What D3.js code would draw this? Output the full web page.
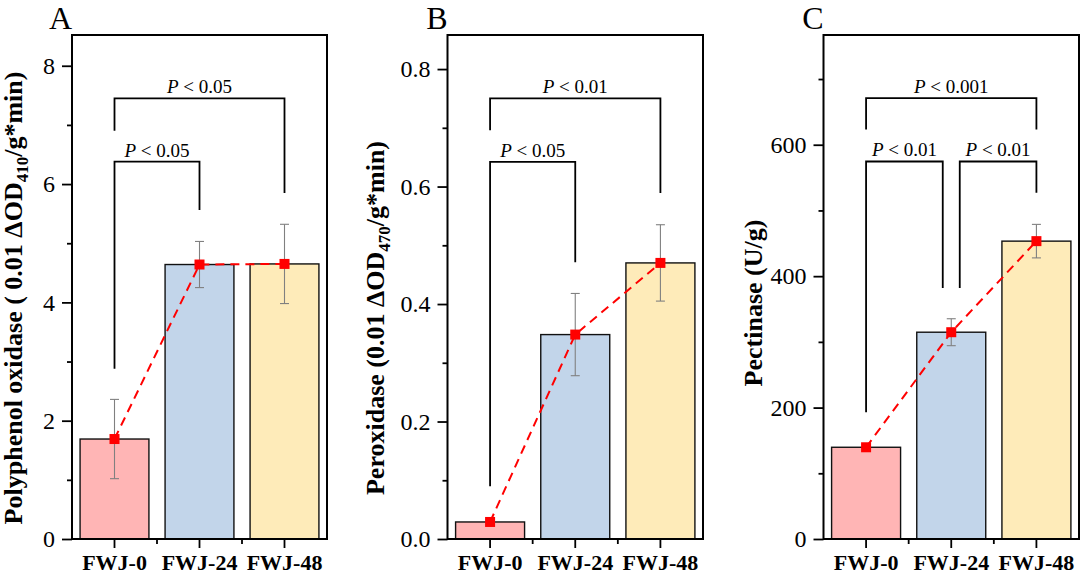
<!DOCTYPE html>
<html><head><meta charset="utf-8">
<script src="https://cdn.jsdelivr.net/npm/d3@7"></script>
<style>body{margin:0;background:#fff} svg{display:block}</style>
</head><body><svg id="c" width="1080" height="574"></svg>
<script>
// ---- data ----
const categories = ["FWJ-0", "FWJ-24", "FWJ-48"];
const barColors = ["#FFB5B5", "#C2D5EA", "#FEEBB9"];

const ppoValues = [1.69, 4.64, 4.65];
const ppoErrors = [0.67, 0.39, 0.67];
const podValues = [0.029, 0.348, 0.470];
const podErrors = [0.004, 0.070, 0.065];
const pecValues = [139.6, 314.7, 453.3];
const pecErrors = [4, 20.5, 25.5];

const ppoTicks = [0, 2, 4, 6, 8];
const ppoMinor = [1, 3, 5, 7];
const podTicks = [0, 0.2, 0.4, 0.6, 0.8];
const podMinor = [0.1, 0.3, 0.5, 0.7];
const pecTicks = [0, 200, 400, 600];
const pecMinor = [100, 300, 500, 700];

// brackets: from/to category index, bar level, left/right leg ends, p label
const ppoBrackets = [
  {from: 0, to: 1, level: 6.38, leftEnd: 2.88, rightEnd: 5.56, p: "0.05"},
  {from: 0, to: 2, level: 7.45, leftEnd: 6.90, rightEnd: 5.85, p: "0.05"}
];
const podBrackets = [
  {from: 0, to: 1, level: 0.642, leftEnd: 0.090, rightEnd: 0.471, p: "0.05"},
  {from: 0, to: 2, level: 0.750, leftEnd: 0.696, rightEnd: 0.589, p: "0.01"}
];
const pecBrackets = [
  {from: 0, to: 1, level: 574.5, leftEnd: 193, rightEnd: 382, p: "0.01", shiftR: -1},
  {from: 1, to: 2, level: 574.5, leftEnd: 382, rightEnd: 527, p: "0.01", shiftL: 1},
  {from: 0, to: 2, level: 671, leftEnd: 623, rightEnd: 623, p: "0.001"}
];

// ---- layout ----
const plotTop = 35, plotBottom = 539;
const panels = [
  {letter: "A", x0: 72, x1: 327, yMax: 8.52, values: ppoValues, errors: ppoErrors,
   ticks: ppoTicks, minor: ppoMinor, fmt: d3.format("d"), brackets: ppoBrackets,
   title: ["Polyphenol oxidase ( 0.01 \u0394OD", "410", "/g*min)"], titleX: 22, titleY: 298},
  {letter: "B", x0: 447.5, x1: 703, yMax: 0.858, values: podValues, errors: podErrors,
   ticks: podTicks, minor: podMinor, fmt: d3.format(".1f"), brackets: podBrackets,
   title: ["Peroxidase (0.01 \u0394OD", "470", "/g*min)"], titleX: 384, titleY: 318},
  {letter: "C", x0: 823.5, x1: 1079, yMax: 767, values: pecValues, errors: pecErrors,
   ticks: pecTicks, minor: pecMinor, fmt: d3.format("d"), brackets: pecBrackets,
   title: ["Pectinase (U/g)"], titleX: 762, titleY: 303}
];

const svg = d3.select("#c");
const serif = "'Liberation Serif','Times New Roman',serif";

panels.forEach(P => {
  const g = svg.append("g");
  const x = d3.scaleBand().domain(categories).range([P.x0, P.x1]).paddingInner(0.19).paddingOuter(0.095);
  const xc = d => x(d) + x.bandwidth() / 2;
  const y = d3.scaleLinear().domain([0, P.yMax]).range([plotBottom, plotTop]);
  const step = x.step();

  // bars
  g.selectAll("rect.bar").data(categories).join("rect")
    .attr("x", d => x(d)).attr("width", x.bandwidth())
    .attr("y", (d, i) => y(P.values[i])).attr("height", (d, i) => y(0) - y(P.values[i]))
    .attr("fill", (d, i) => barColors[i]).attr("stroke", "#111").attr("stroke-width", 1.4);

  // error bars
  categories.forEach((c, i) => {
    const cx = xc(c), hi = y(P.values[i] + P.errors[i]), lo = y(P.values[i] - P.errors[i]);
    const eg = g.append("g").attr("stroke", "#808080").attr("stroke-width", 1.1);
    eg.append("line").attr("x1", cx).attr("x2", cx).attr("y1", hi).attr("y2", lo);
    eg.append("line").attr("x1", cx - 4.5).attr("x2", cx + 4.5).attr("y1", hi).attr("y2", hi);
    eg.append("line").attr("x1", cx - 4.5).attr("x2", cx + 4.5).attr("y1", lo).attr("y2", lo);
  });

  // significance brackets
  P.brackets.forEach(b => {
    const xa = xc(categories[b.from]) + (b.shiftL ? b.shiftL * 8.5 : 0);
    const xb = xc(categories[b.to]) + (b.shiftR ? b.shiftR * 8.5 : 0);
    g.append("path")
      .attr("d", `M${xa},${y(b.leftEnd)}V${y(b.level)}H${xb}V${y(b.rightEnd)}`)
      .attr("fill", "none").attr("stroke", "#000").attr("stroke-width", 1.8);
    const t = g.append("text").attr("x", (xa + xb) / 2).attr("y", y(b.level) - 5)
      .attr("text-anchor", "middle").attr("font-family", serif).attr("font-size", 19);
    t.append("tspan").attr("font-style", "italic").text("P");
    t.append("tspan").text(" < " + b.p);
  });

  // red dashed line + markers
  const line = d3.line().x((d, i) => xc(categories[i])).y(d => y(d));
  g.append("path").attr("d", line(P.values)).attr("fill", "none")
    .attr("stroke", "#FF0000").attr("stroke-width", 2).attr("stroke-dasharray", "9,6");
  g.selectAll("rect.mk").data(P.values).join("rect")
    .attr("x", (d, i) => xc(categories[i]) - 5).attr("y", d => y(d) - 5)
    .attr("width", 10).attr("height", 10).attr("fill", "#FF0000");

  // y axis
  const ya = g.append("g").attr("transform", `translate(${P.x0},0)`)
    .call(d3.axisLeft(y).tickValues(P.ticks).tickFormat(P.fmt).tickSize(10).tickPadding(7));
  ya.select(".domain").remove();
  ya.selectAll("line").attr("stroke", "#000").attr("stroke-width", 1.8);
  ya.selectAll("text").attr("font-family", serif).attr("font-size", 24).attr("fill", "#000");
  const ym = g.append("g").attr("transform", `translate(${P.x0},0)`)
    .call(d3.axisLeft(y).tickValues(P.minor).tickFormat("").tickSize(5));
  ym.select(".domain").remove();
  ym.selectAll("line").attr("stroke", "#000").attr("stroke-width", 1.8);

  // x axis
  const xa = g.append("g").attr("transform", `translate(0,${plotBottom})`)
    .call(d3.axisBottom(x).tickSize(9).tickPadding(6));
  xa.select(".domain").remove();
  xa.selectAll("line").attr("stroke", "#000").attr("stroke-width", 1.8);
  xa.selectAll("text").attr("font-family", serif).attr("font-size", 22)
    .attr("font-weight", "bold").attr("fill", "#000");
  // minor x ticks between categories
  g.selectAll("line.xm").data(categories.slice(1)).join("line")
    .attr("x1", d => x(d) - (step - x.bandwidth()) / 2).attr("x2", d => x(d) - (step - x.bandwidth()) / 2)
    .attr("y1", plotBottom).attr("y2", plotBottom + 5).attr("stroke", "#000").attr("stroke-width", 1.8);

  // frame
  g.append("rect").attr("x", P.x0).attr("y", plotTop).attr("width", P.x1 - P.x0).attr("height", plotBottom - plotTop)
    .attr("fill", "none").attr("stroke", "#000").attr("stroke-width", 2);

  // panel letter
  g.append("text").attr("x", P.x0).attr("y", 29).attr("text-anchor", "end")
    .attr("font-family", serif).attr("font-size", 32).text(P.letter);

  // y title
  const tt = g.append("text").attr("transform", `translate(${P.titleX},${P.titleY}) rotate(-90)`)
    .attr("text-anchor", "middle").attr("font-family", serif).attr("font-size", 26).attr("font-weight", "bold");
  tt.append("tspan").text(P.title[0]);
  if (P.title.length > 1) {
    tt.append("tspan").attr("font-size", 17).attr("dy", 6).text(P.title[1]);
    tt.append("tspan").attr("dy", -6).text(P.title[2]);
  }
});
</script></body></html>
